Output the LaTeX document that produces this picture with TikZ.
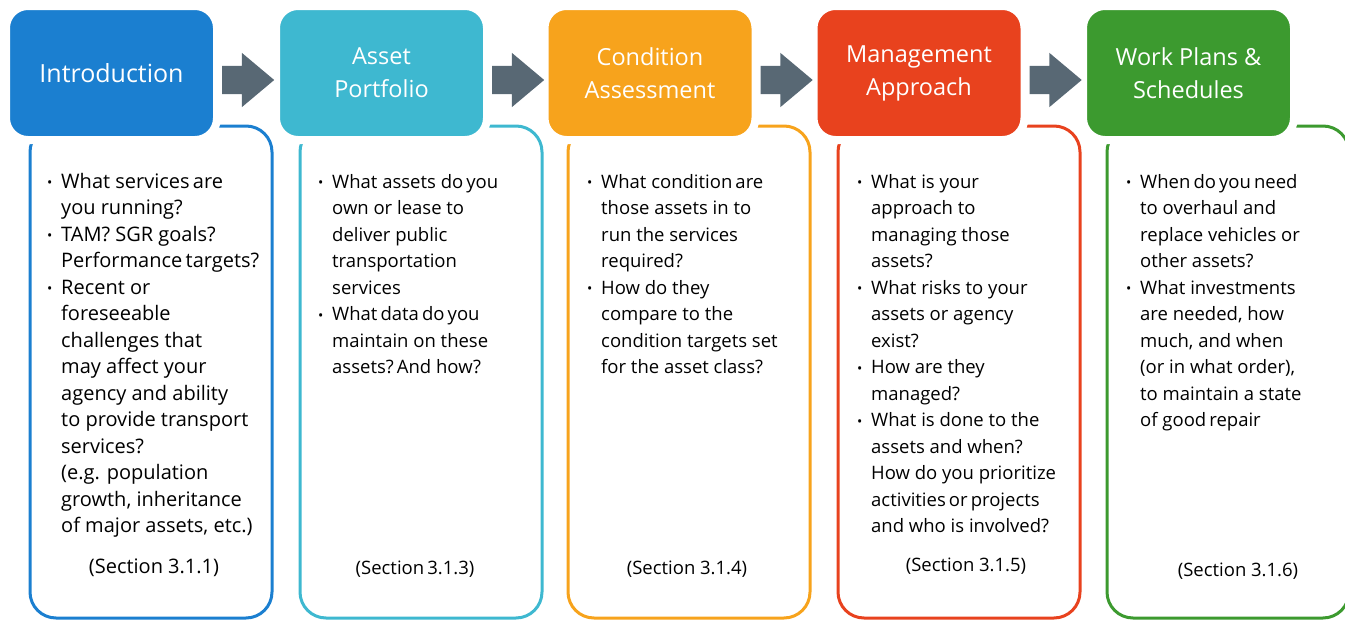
\documentclass[tikz,border=0pt]{standalone}
\usepackage{fontspec}
\setmainfont{Open Sans}
\usepackage{tikz}
\usetikzlibrary{positioning, shapes.arrows, calc}
\definecolor{introblue}{RGB}{27,127,208}
\definecolor{assetteal}{RGB}{62,184,208}
\definecolor{condorange}{RGB}{247,163,28}
\definecolor{mgmtred}{RGB}{232,66,30}
\definecolor{workgreen}{RGB}{60,154,47}
\definecolor{arrowgrey}{RGB}{88,104,116}
\newcommand{\bitem}{\makebox[14pt][l]{\raisebox{0.5pt}{\fontsize{14}{14}\selectfont\textbullet}}}
\newcommand{\ind}{\hspace*{14pt}}

\begin{document}
\begin{tikzpicture}[x=1pt, y=-1pt,
  header/.style={draw=white, line width=8pt, rounded corners=22pt, minimum width=211pt, minimum height=134pt, text=white, align=center, inner sep=0pt, font=\fontsize{23.5}{33}\selectfont},
  outline/.style={line width=3pt, rounded corners=26pt},
  steparrow/.style={single arrow, fill=arrowgrey, draw=none, minimum height=52pt, inner sep=14pt, single arrow head extend=13pt, single arrow tip angle=80, single arrow head indent=0pt, anchor=tail},
  bodytext/.style={anchor=north west, align=left, inner sep=0pt, font=\fontsize{18.5}{26.5}\selectfont},
  sectiontext/.style={inner sep=0pt, font=\fontsize{18.5}{24}\selectfont}]
\useasboundingbox (0,0) rectangle (1345,621);
\pgfmathsetmacro{\boxw}{242}

% outlines behind the headers
\draw[outline, introblue] (30,126) rectangle ++(\boxw,492);
\draw[outline, assetteal] (300,126) rectangle ++(\boxw,492);
\draw[outline, condorange] (568,126) rectangle ++(\boxw,492);
\draw[outline, mgmtred] (838,126) rectangle ++(\boxw,492);
\draw[outline, workgreen] (1107,126) rectangle ++(\boxw,492);

% headers
\node[header, fill=introblue, font=\fontsize{25}{33}\selectfont] (intro) at (111.5,73) {Introduction};
\node[header, fill=assetteal] (asset) at (381.5,73) {Asset\\Portfolio};
\node[header, fill=condorange] (cond) at (650,73) {Condition\\Assessment};
\node[header, fill=mgmtred] (mgmt) at (919,73) {Management\\Approach};
\node[header, fill=workgreen] (work) at (1188.5,73) {Work Plans \&\\Schedules};

% arrows between the steps
\node[steparrow] (a1) at ($(intro.east)+(1,7)$) {};
\node[steparrow] (a2) at ($(asset.east)+(1,7)$) {};
\node[steparrow] (a3) at ($(cond.east)+(1,7)$) {};
\node[steparrow] (a4) at ($(mgmt.east)+(1,7)$) {};

% questions
\node[bodytext, font=\fontsize{20}{26.5}\selectfont] (introq) at (47,173) {\bitem What services\,are\\
\ind you running?\\
\bitem TAM? SGR goals?\\
\ind Performance\,targets?\\
\bitem Recent or\\
\ind foreseeable\\
\ind challenges that\\
\ind may affect your\\
\ind agency and ability\\
\ind to provide transport\\
\ind services?\\
\ind (e.g. population\\
\ind growth, inheritance\\
\ind of major assets, etc.)};
\node[bodytext] (assetq) at (318,174) {\bitem What assets do\,you\\
\ind own or lease to\\
\ind deliver public\\
\ind transportation\\
\ind services\\
\bitem What\,data\,do\,you\\
\ind maintain on these\\
\ind assets?\,And how?};
\node[bodytext] (condq) at (587,174) {\bitem What condition\,are\\
\ind those assets in to\\
\ind run the services\\
\ind required?\\
\bitem How do they\\
\ind compare to the\\
\ind condition targets set\\
\ind for the asset class?};
\node[bodytext] (mgmtq) at (857,174) {\bitem What is your\\
\ind approach to\\
\ind managing those\\
\ind assets?\\
\bitem What risks to your\\
\ind assets or agency\\
\ind exist?\\
\bitem How are they\\
\ind managed?\\
\bitem What is done to the\\
\ind assets and when?\\
\ind How do you prioritize\\
\ind activities\,or\,projects\\
\ind and who is involved?};
\node[bodytext] (workq) at (1126,174) {\bitem When\,do\,you\,need\\
\ind to overhaul and\\
\ind replace vehicles or\\
\ind other assets?\\
\bitem What investments\\
\ind are needed, how\\
\ind much, and when\\
\ind (or in what order),\\
\ind to maintain a state\\
\ind of good\,repair};

% section references
\node[sectiontext, font=\fontsize{20}{24}\selectfont] (introsec) at (154,568) {(Section 3.1.1)};
\node[sectiontext] (assetsec) at (415,569) {(Section\,3.1.3)};
\node[sectiontext] (condsec) at (687,569) {(Section 3.1.4)};
\node[sectiontext] (mgmtsec) at (966,566) {(Section 3.1.5)};
\node[sectiontext] (worksec) at (1238,571) {(Section 3.1.6)};
\end{tikzpicture}
\end{document}
